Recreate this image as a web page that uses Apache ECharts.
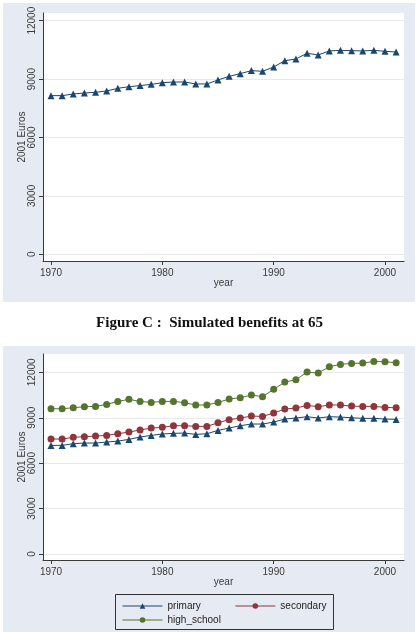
<!DOCTYPE html>
<html>
<head>
<meta charset="utf-8">
<script src="https://cdn.jsdelivr.net/npm/echarts@6/dist/echarts.min.js"></script>
<style>
  html, body { margin: 0; padding: 0; background: #ffffff; }
  #main { width: 419px; height: 632px; }
</style>
</head>
<body>
<div id="main"></div>
<script>
// years 1970-2001
var years = [1970,1971,1972,1973,1974,1975,1976,1977,1978,1979,1980,1981,1982,1983,1984,1985,
             1986,1987,1988,1989,1990,1991,1992,1993,1994,1995,1996,1997,1998,1999,2000,2001];

// top panel (all)
var allBenefits = [8150,8150,8235,8285,8320,8390,8525,8610,8665,8730,8815,8850,8850,8750,8750,8955,
                   9140,9280,9435,9400,9620,9945,10030,10325,10240,10445,10475,10460,10445,10475,10425,10390];

// Figure C : simulated benefits at 65
var primary = [7175,7175,7285,7330,7330,7395,7460,7570,7725,7835,7925,7970,7990,7900,7945,8165,
               8320,8475,8585,8585,8715,8915,8980,9070,8980,9070,9045,9000,8960,8960,8915,8890];
var secondary = [7595,7595,7705,7750,7790,7835,7945,8055,8190,8320,8365,8475,8475,8430,8430,8670,
                 8870,8980,9110,9090,9310,9575,9640,9815,9730,9840,9840,9770,9750,9750,9685,9660];
var highSchool = [9595,9595,9660,9730,9750,9880,10080,10215,10080,10015,10080,10080,9995,9840,9840,10015,
                  10235,10325,10500,10390,10875,11355,11510,12015,11950,12370,12525,12590,12610,12720,12700,12635];

var xTicks = [1970, 1980, 1990, 2000];
var yTicks = [0, 3000, 6000, 9000, 12000];

function pairs(vals) {
  var out = [];
  for (var i = 0; i < years.length; i++) out.push([years[i], vals[i]]);
  return out;
}
function plain(v) { return String(v); }

var axisCol = '#3a3a3a';
var labCol = '#3a3a3a';
var bgCol = '#e6eaf2';

function xAxisOf(idx) {
  return {
    type: 'value', gridIndex: idx,
    min: 1969.281, max: 2001.707,
    name: 'year', nameLocation: 'middle', nameGap: 17, nameMoveOverlap: false,
    nameTextStyle: { fontFamily: 'Liberation Sans', fontSize: 10, color: labCol },
    axisLine: { show: true, onZero: false, lineStyle: { color: axisCol, width: 1 } },
    axisTick: { show: true, inside: false, length: 4, customValues: xTicks, lineStyle: { color: axisCol } },
    axisLabel: { customValues: xTicks, formatter: plain, margin: 7, fontFamily: 'Liberation Sans', fontSize: 10, color: labCol },
    splitLine: { show: false }
  };
}

function yAxisOf(idx, mn, mx) {
  return {
    type: 'value', gridIndex: idx,
    min: mn, max: mx,
    name: '2001 Euros', nameLocation: 'middle', nameGap: 16, nameRotate: 90, nameMoveOverlap: false,
    nameTextStyle: { fontFamily: 'Liberation Sans', fontSize: 10, color: labCol },
    axisLine: { show: true, onZero: false, lineStyle: { color: axisCol, width: 1 } },
    axisTick: { show: true, inside: false, length: 4, customValues: yTicks, lineStyle: { color: axisCol } },
    axisLabel: { customValues: yTicks, formatter: plain, rotate: 90, margin: 6, fontFamily: 'Liberation Sans', fontSize: 10, color: labCol },
    splitLine: { show: true, lineStyle: { color: '#e9e9e9', width: 1 } }
  };
}

function lineSeries(name, data, idx, col, sym, size) {
  return {
    name: name, type: 'line', xAxisIndex: idx, yAxisIndex: idx,
    data: pairs(data),
    symbol: sym, symbolSize: size, showSymbol: true,
    lineStyle: { color: col, width: 1 },
    itemStyle: { color: col },
    emphasis: { disabled: true },
    animation: false
  };
}

var legendText = { fontFamily: 'Liberation Sans', fontSize: 10, color: '#222' };

var myChart = echarts.init(document.getElementById('main'));
var option = {
  backgroundColor: '#ffffff',
  animation: false,
  graphic: [
    { type: 'rect', z: -10, shape: { x: 3, y: 3, width: 412, height: 299 }, style: { fill: bgCol } },
    { type: 'rect', z: -10, shape: { x: 3, y: 346, width: 412, height: 286 }, style: { fill: bgCol } },
    { type: 'text', left: 'center', top: 316,
      style: { text: 'Figure C :  Simulated benefits at 65', font: 'bold 15px "Liberation Serif"', fill: '#111' } },
    { type: 'rect', z: 1, shape: { x: 115.5, y: 594.5, width: 218, height: 35 },
      style: { fill: bgCol, stroke: '#333', lineWidth: 1 } }
  ],
  grid: [
    { left: 43, top: 13, width: 361, height: 248, show: true, backgroundColor: '#ffffff', borderWidth: 0 },
    { left: 43, top: 354, width: 361, height: 206, show: true, backgroundColor: '#ffffff', borderWidth: 0 }
  ],
  xAxis: [xAxisOf(0), xAxisOf(1)],
  yAxis: [yAxisOf(0, -342.5, 12394), yAxisOf(1, -396, 13211)],
  legend: [
    { left: 117, top: 596, itemWidth: 40, itemHeight: 7, itemGap: 34, z: 5,
      data: ['primary', 'secondary'], lineStyle: { width: 1 },
      textStyle: legendText },
    { left: 117, top: 610, itemWidth: 40, itemHeight: 7, z: 5,
      data: ['high_school'], lineStyle: { width: 1 },
      textStyle: legendText }
  ],
  series: [
    lineSeries('all', allBenefits, 0, '#1a476f', 'triangle', 7),
    lineSeries('primary', primary, 1, '#1a476f', 'triangle', 7),
    lineSeries('secondary', secondary, 1, '#90353b', 'circle', 7),
    lineSeries('high_school', highSchool, 1, '#55752f', 'circle', 7)
  ]
};
myChart.setOption(option);
</script>
</body>
</html>
